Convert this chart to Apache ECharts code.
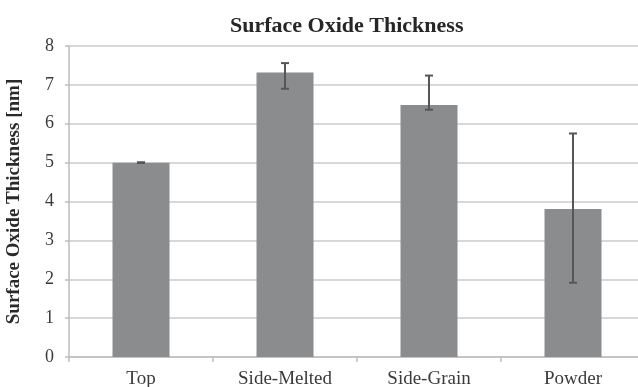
<!DOCTYPE html>
<html>
<head>
<meta charset="utf-8">
<script src="https://cdn.jsdelivr.net/npm/echarts@6/dist/echarts.min.js"></script>
<style>html,body{margin:0;padding:0;background:#fff}#c{width:638px;height:387px}</style>
</head>
<body>
<div id="c"></div>
<script>
const categories = ['Top', 'Side-Melted', 'Side-Grain', 'Powder'];
const values = [5.0, 7.32, 6.48, 3.81];
const errUpper = [5.01, 7.56, 7.24, 5.75];
const errLower = [4.99, 6.90, 6.36, 1.91];
const yTicks = [0, 1, 2, 3, 4, 5, 6, 7, 8];

const chart = echarts.init(document.getElementById('c'));
const serif = '"Liberation Serif", "Times New Roman", serif';
const errData = categories.map((c, i) => [i, errLower[i], errUpper[i]]);

chart.setOption({
  animation: false,
  backgroundColor: '#fff',
  title: {
    text: 'Surface Oxide Thickness',
    left: 225, top: 10,
    textStyle: { fontFamily: serif, fontWeight: 'bold', fontSize: 22, color: '#262626' }
  },
  grid: { left: 69, top: 46, bottom: 30, width: 576, outerBoundsMode: 'none', containLabel: false },
  xAxis: {
    type: 'category',
    data: categories,
    axisLine: { lineStyle: { color: '#bdbdbd', width: 1.5 } },
    axisTick: { show: true, length: 5, lineStyle: { color: '#bdbdbd', width: 1.5 } },
    axisLabel: { fontFamily: serif, fontSize: 19, color: '#3a3a3a', margin: 13 }
  },
  yAxis: {
    type: 'value',
    min: yTicks[0], max: yTicks[yTicks.length - 1], interval: 1,
    name: 'Surface Oxide Thickness [nm]',
    nameLocation: 'middle',
    nameGap: 45,
    nameTextStyle: { fontFamily: serif, fontWeight: 'bold', fontSize: 19, color: '#2a2a2a' },
    axisLine: { show: true, lineStyle: { color: '#bdbdbd', width: 1.5 } },
    axisTick: { show: true, length: 4, lineStyle: { color: '#bdbdbd', width: 1.5 } },
    axisLabel: { fontFamily: serif, fontSize: 18, color: '#3a3a3a', margin: 15 },
    splitLine: { lineStyle: { color: '#cbcbcb', width: 1.5 } }
  },
  series: [
    {
      type: 'bar',
      data: values,
      barWidth: 57,
      itemStyle: { color: '#8b8c8e' }
    },
    {
      type: 'custom',
      data: errData,
      encode: { x: 0, y: [1, 2] },
      z: 5,
      renderItem: function (params, api) {
        const x = api.value(0);
        const lo = api.coord([x, api.value(1)]);
        const hi = api.coord([x, api.value(2)]);
        const hw = 4;
        const style = { stroke: '#565656', lineWidth: 2 };
        return {
          type: 'group',
          children: [
            { type: 'line', shape: { x1: hi[0], y1: hi[1], x2: lo[0], y2: lo[1] }, style: style },
            { type: 'line', shape: { x1: hi[0] - hw, y1: hi[1], x2: hi[0] + hw, y2: hi[1] }, style: style },
            { type: 'line', shape: { x1: lo[0] - hw, y1: lo[1], x2: lo[0] + hw, y2: lo[1] }, style: style }
          ]
        };
      }
    }
  ]
});
</script>
</body>
</html>
